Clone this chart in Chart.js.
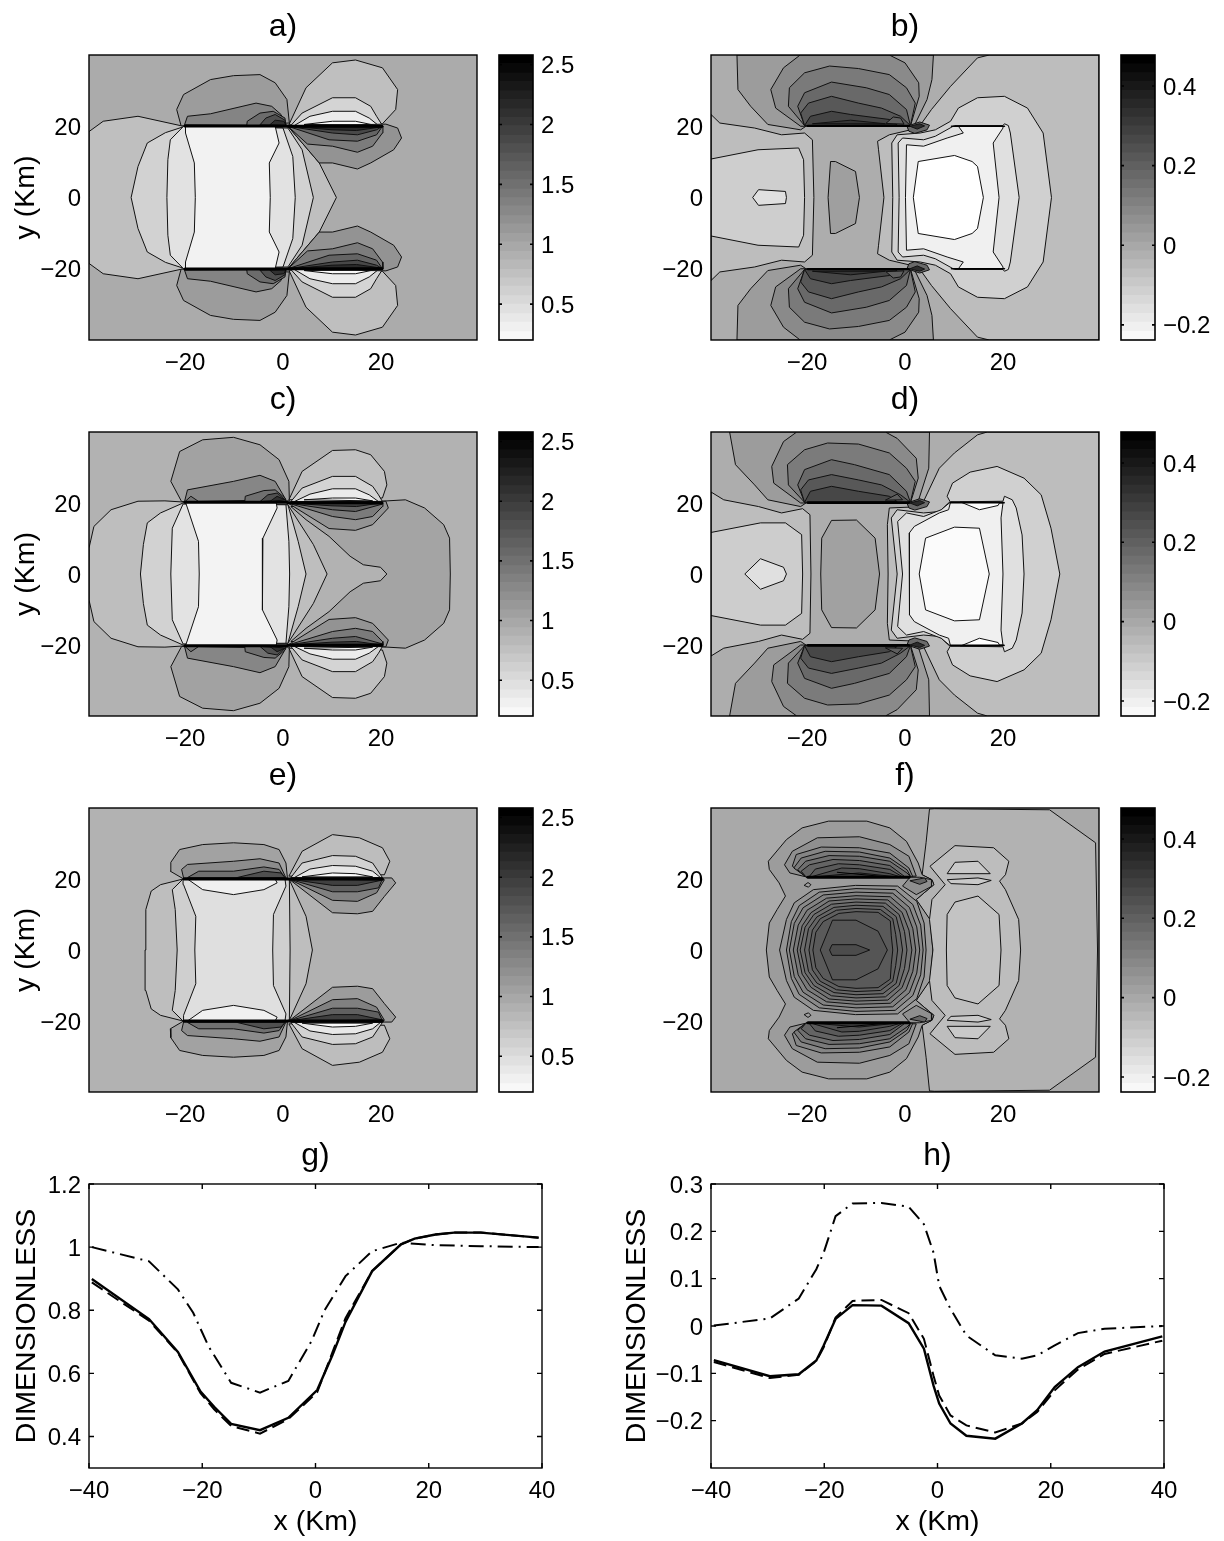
<!DOCTYPE html>
<html><head><meta charset="utf-8">
<script src="https://cdn.jsdelivr.net/npm/chart.js@4"></script>
<style>
html,body{margin:0;padding:0;background:#fff;width:1224px;height:1541px;overflow:hidden}
canvas{position:absolute;display:block}
</style></head><body>
<script>
/* ---------- axis ticks ---------- */
const contourXTicks=[-20,0,20];
const contourYTicks=[-20,0,20];
const lineXTicks=[-40,-20,0,20,40];
const lineGTicks=[0.4,0.6,0.8,1,1.2];
const lineHTicks=[-0.2,-0.1,0,0.1,0.2,0.3];
const barTicksLeft=[0.5,1,1.5,2,2.5];
const barTicksRight=[-0.2,0,0.2,0.4];
const panelTitles=['a)','b)','c)','d)','e)','f)','g)','h)'];

/* ---------- colour bars ---------- */
const barGreys=[248,240,232,224,216,208,200,192,184,176,168,160,152,144,136,128,120,112,104,96,88,80,72,64,56,48,40,32,24,16,8,0];
const barEdgesLeft=[0.20,0.27,0.35,0.42,0.50,0.57,0.65,0.72,0.79,0.87,0.94,1.02,1.09,1.17,1.24,1.32,1.39,1.46,1.54,1.61,1.69,1.76,1.84,1.91,1.99,2.06,2.13,2.21,2.28,2.36,2.43,2.51,2.58];
const barEdgesRight=[-0.238,-0.216,-0.193,-0.171,-0.148,-0.126,-0.104,-0.081,-0.059,-0.036,-0.014,0.008,0.031,0.053,0.076,0.098,0.120,0.143,0.165,0.188,0.210,0.232,0.255,0.277,0.300,0.322,0.344,0.367,0.389,0.412,0.434,0.456,0.478];

/* ---------- line panels ---------- */
const gX=[-39.5,-29.4,-24.3,-20.3,-17.9,-14.9,-9.8,-4.8,0.3,3,5.3,10,15.1,17.5,21.2,24.5,29.2,39.4];
const gSolid=[.899,.772,.668,.542,.494,.44,.42,.459,.547,.658,.763,.924,1.009,1.027,1.04,1.046,1.046,1.03];
const gDashed=[.888,.767,.665,.537,.486,.433,.409,.455,.54,.667,.775,.924,1.009,1.027,1.04,1.046,1.046,1.03];
const gDashDotX=[-39.5,-29.4,-24.3,-21.6,-18.9,-14.9,-9.8,-4.8,-.7,1.6,5.3,10,15.1,21.2,29.2,39.4];
const gDashDot=[1,.955,.866,.792,.686,.57,.539,.576,.702,.8,.908,.987,1.014,1.006,1.003,1];
const hX=[-39.5,-29.6,-24.5,-21.4,-20.1,-18,-15,-9.9,-5.1,-2.4,-.7,.3,2.3,5.1,10.2,14.9,17.6,20.7,24.8,29.5,39.7];
const hSolid=[-.072,-.106,-.102,-.073,-.041,.015,.044,.043,.006,-.048,-.126,-.164,-.206,-.232,-.238,-.206,-.178,-.129,-.087,-.054,-.022];
const hDashed=[-.076,-.11,-.103,-.074,-.045,.018,.053,.055,.027,-.027,-.105,-.147,-.189,-.21,-.225,-.206,-.182,-.136,-.092,-.059,-.031];
const hDashDot=[.001,.016,.058,.12,.155,.232,.259,.26,.252,.215,.155,.085,.036,-.02,-.062,-.069,-.062,-.041,-.015,-.006,0];

/* ---------- contour panels: upper half, flat x,y lists, mirrored about y=0 ---------- */
const plotBox=[-39.6,-40,39.6,-40,39.6,40,-39.6,40];
const backA=171, backB=173, backC=178, backD=173, backE=178, backF=169;

const bandGreysA=[191,210,226,242];
const bandsA=[
[-39.6,0,-39.6,18.5,-36.7,21.4,-29.6,22.8,-21,20.2,-18,20,1,20,7.4,9.7,10.9,0],
[-31,0,-29.6,8.7,-27.7,15.3,-24,18.2,-20,20,1,19.5,3.9,13.4,6.2,0],
[-23.7,0,-23.5,10.6,-23,16.2,-20.3,20,0,19.5,2,11.5,2.5,0],
[-17.9,0,-18.1,9.7,-19.9,18.1,-19.9,20,-1.6,20,-.8,15.3,-2.8,9.7,-2.6,0]];
const lobeGreysA=[156,132,108,80,48,191,212,235,250,147,124,100,72,42];
const lobesA=[
[-20.8,20.1,-21.7,24.7,-20.3,28.9,-14.8,33.1,-10.1,34.2,-4.7,34.5,-1.6,32.2,.8,27.5,1.3,20.9],
[-20.1,20.4,-19.5,22.8,-14.8,23.5,-5.5,26.5,-2.3,25.6,-.4,23.3,.6,20.2],
[-7.4,20.2,-7.3,21.4,-4.7,23.7,-2,24.2,.4,22.3,.6,20.2],
[-4.7,20.4,-3.5,22.3,-1.6,23.3,.4,21.7,.6,20.2],
[-2.7,20.4,-1.6,21.7,.2,21.4,.6,20.2],
[1.2,20.4,4.7,30.8,10.1,37.8,14.8,38.6,20.3,36.4,23.4,30.3,23,24.7,20.3,20.7],
[1.6,20.2,3.9,23.7,10.1,28,14.8,28,17.9,25.6,19.1,22.8,20.3,20.2],
[2.3,20.2,5.5,22.8,10.1,24.2,14.8,24.2,17.6,22.3,19.5,20.2],
[4.3,20.5,10.1,21.4,14.8,21.4,18.3,20.4],
[1,20,7.4,9.7,10.1,9.7,15.2,8,17.9,9.7,22.6,13.4,24.2,16.7,23.4,19.5,21,20.6],
[1,20,5,15,10.1,14.4,15.2,12.7,18.3,14.4,20.3,18.1,20.4,20],
[1,20,9.4,16.2,15.2,15.8,19.1,17.6,20.3,20],
[1,20,10.1,18.1,15.2,17.6,19.1,19,20.3,20],
[1.5,20,10,19,15,18.8,20,19.8]];
const wallsA=[-20,20.1,0.8,20.1,1,20,20.2,20];

const bandGreysB=[189,206,159,189,208,224,240,255,224];
const bandsB=[
[-39.6,0,-39.6,23.3,-37.8,20.9,-30.7,19.5,-25.2,17.6,-20.5,18.1,-18.9,16.2,-18.6,0],
[-39.6,0,-39.6,10.8,-30,13.4,-21.7,13.9,-20.7,10.6,-20.5,0],
[-15.7,0,-15.2,10.1,-14.2,10.1,-10.1,7.3,-9.3,0],
[39.6,0,39.6,40,17.2,40,14.8,39.2,9.3,31.2,5.4,24.7,2.7,19.5,-3.2,17.6,-5.6,15.8,-5.4,13.4,-4.3,0],
[29.9,0,28.2,18.1,25,25.1,20.3,28.4,14.8,28,10.9,25.1,9.3,21.4,6.2,19,3.1,18.1,-1.6,17.6,-2.7,15.3,-2.5,0],
[23.3,0,21.5,18.1,21.1,20.2,20.3,20.7,20,20.2,10.1,20.2,6.2,17.2,3.8,16.2,-.5,16.7,-1.4,15.3,-1.2,0],
[19.2,0,18,15.3,20,19.5,20,20,10.9,20,11.9,18.1,8.6,16.7,3.8,14.4,.3,14.8,.1,0],
[16,0,14.8,8.7,13.7,10.1,10.1,11.8,2.7,10.1,1.7,0],
[-31.1,0,-29.9,2.2,-24.4,1.7,-24.2,0]];
const lobeGreysB=[156,138,122,105,88,69,96,53,106,44];
const lobesB=[
[-34.3,40,-34.1,30.3,-31.5,25.6,-28,20.5,-21.3,19,-20,20.2,1.9,20.2,4.5,27.5,5.5,33.1,5.8,40],
[-21.4,40,-24.8,36.4,-27.4,30.3,-26.4,25.1,-21.3,20,1.1,20,2.9,28.4,2.8,32.2,0,37.8,-3.2,40],
[-20.5,20.2,-23.8,25.6,-23.6,30.8,-20.5,35,-15.4,36.9,-9.5,36.2,-3.2,34.5,.3,30.8,2.1,26.5,1.1,20.2],
[-20.5,20.2,-21.9,25.6,-20.5,29.4,-15,32.4,-7.9,30.8,-3.2,28.9,.3,24.7,1.1,20.2],
[-20.5,20.2,-21.3,23.7,-19.7,26.5,-15,28.4,-9.5,26.5,-4.8,25.1,-.9,22.8,1.1,20.2],
[-20.5,20.2,-19.3,22.8,-15,24.2,-11.1,23.3,-3.2,21.9,-1.6,20.4],
[-3.9,20.8,-2.4,22.6,-.9,22.3,-.2,20.6],
[-18.9,20.7,-11.1,21.7,-4,20.7],
[0.4,20,3,21.2,5,20.3,4.5,19,2,18,.8,18.6],
[1,20,3,20.7,4,20.1,2.5,19.2]];
const wallsB=[-19.8,20.1,.8,20.1,9.5,20,20.3,20];

const bandGreysC=[164,190,210,227,243];
const bandsC=[
[21.2,0,19.9,1.9,16.4,2.6,13.7,5,9.4,10.6,4.7,15.3,1.6,19,20,20.5,25,20.9,28.9,18.6,32.8,13.9,34,10.1,34.15,0],
[-39.6,0,-39.6,7.3,-38.6,13.4,-35.1,18.1,-29.6,20.5,-24.1,20.6,-20.7,20.3,1,19.5,6.2,8.3,9,0],
[-29.1,0,-28.5,8.3,-27.7,14.4,-25,17.2,-20.4,20,1,19.5,3.1,9.2,4.7,0],
[-22.9,0,-22.6,12.9,-20.4,19.7,.6,19.5,1.2,9.2,1.35,0],
[-17.1,0,-17.25,9.2,-19.5,18.6,-19.9,20.2,-1.4,20.2,-1.2,18.6,-4.1,10.1,-4.25,0]];
const lobeGreysC=[162,134,115,112,80,48,192,212,235,250,147,123,98,58];
const lobesC=[
[-20.7,20.4,-22.9,26.1,-21.1,34.5,-16.4,37.8,-10.1,38.5,-4.7,36.4,-.8,32.2,1.2,26.1,1.3,20.6],
[-20.1,20.4,-19.5,23.7,-10.1,26.1,-4.7,27.8,-1.6,26.1,.6,20.9],
[-20,20.4,-18.8,21.9,-17.2,20.4],
[-7.8,20.4,-7.7,21.9,-3.9,23.5,-1.6,23.7,.4,21.4,.6,20.4],
[-4.7,20.4,-3.1,22.3,-1.2,22.8,.4,20.9],
[-2.7,20.4,-1.2,21.9,.4,20.9],
[1.2,20.9,3.9,28.9,10.1,34.8,14.8,35,17.9,33.6,20.7,28.9,21.2,25.1,20.3,21.4],
[1.6,20.4,3.9,24.2,10.1,27.5,14.8,27.5,18.3,24.7,19.5,22.3,20.3,20.4],
[2.3,20.4,5.5,22.5,10.1,24,14.8,24,17.6,22.3,19.5,20.4],
[4.3,20.9,10.1,21.4,14.8,21.4,18.3,20.6],
[1,20,9.4,12.8,14.8,12.3,18.3,13.9,21.5,18.6,21,20.5],
[1,20,10.1,16.2,14.8,15.3,18.3,16.2,20.3,19,20.4,20],
[1,20,10.1,18.1,14.8,17.6,20.3,19.7],
[1,20,10,19.2,15,19,20,20]];
const wallsC=[-20,20.2,.8,20.2,1,20.1,20.2,20.1];

const bandGreysD=[189,208,224,240,251,189,205,161,224];
const bandsD=[
[39.6,0,39.6,40,16.8,40,14.8,39.2,10.1,34.1,7,29.8,3.8,20.5,2,18.9,-3.2,18.6,-3.6,13.9,-3.45,0],
[31.6,0,29.8,12.9,27.8,22.3,24.3,27,18.8,30.3,13.3,28.7,9.7,25.6,8.6,21.9,9.2,20.4,7,17.6,3.8,17.2,-1.6,18.1,-2.8,15.8,-1.6,0],
[24.3,0,23.9,11,22.7,18.6,21.9,20.9,20.3,21.9,20,20.5,9.3,20.3,7.4,18.1,3.8,16.2,.3,17.2,-1.5,14.8,-.5,0],
[20,0,19.6,15.8,20,20,9.3,20.3,8.9,18.1,7,17.2,1.9,13.4,.85,11.5,.95,0],
[17.2,0,15.2,12.9,10.1,13.2,4.2,10.1,2.9,0],
[-39.6,0,-39.6,23.1,-37,20.9,-29.9,19,-25.2,17.2,-20.9,18.4,-19.4,16.7,-19.2,0],
[-39.6,0,-39.6,11.7,-29.5,14.4,-24.4,14.4,-21.1,11.1,-20.9,0],
[-17.2,0,-17,10.1,-15,15.1,-9.9,15.2,-6.1,10.1,-5.2,0],
[-32.7,0,-29.5,4.3,-24.8,1.9,-24.2,0]];
const lobeGreysD=[156,138,123,105,88,71,94,255,106,44];
const lobesD=[
[-35.8,40,-34.6,30.8,-30.7,25.1,-28,20.9,-21.3,19,-20,20.2,1.9,20.2,2.7,20.5,4.85,29.8,5,40],
[-22.1,40,-24.8,37.3,-27.2,30.3,-26.8,25.6,-21.3,20,1.1,20,2.7,27,2.3,32.6,-1.6,38.2,-4,40],
[-20.5,20.2,-23.8,25.1,-24,30.8,-20.5,35,-15.8,36.9,-9.5,36.6,-3.2,34.1,.3,29.8,2.1,26.1,1.1,20.2],
[-20.5,20.2,-21.9,25.1,-20.5,29.4,-15,32.2,-10.3,30.8,-3.2,28,.3,23.3,1.1,20.2],
[-20.5,20.2,-21.3,23.7,-19.7,26.5,-15,28,-9.5,26.5,-4.8,25.1,-.9,22.3,1.1,20.2],
[-20.5,20.2,-19.3,23.3,-15,24.7,-9.5,23.3,-3.2,21.9,-1.6,20.4],
[-4,20.8,-1.6,22.5,-.5,20.9],
[11.3,20.3,15.2,18.1,19,19.3,19.4,20.3],
[.4,20,3,21.2,5,20.3,4.5,19,2,18,.8,18.6],
[1,20,3,20.7,4,20.1,2.5,19.2]];
const wallsD=[-19.8,20.1,.8,20.1,9.3,20.1,20.2,20.1];

const bandGreysE=[190,207,223];
const bandsE=[
[-28.15,0,-28,11.4,-26.9,16.6,-25,18.4,-20.4,20,1.3,19.8,4.7,9.5,6,0],
[-21.6,0,-22,11.4,-22.6,17,-20.4,20,1.3,19.8,1.45,0],
[-18,0,-17.8,9.5,-20.3,18.4,-20.4,20,.4,20,.6,18,-1.95,10,-2.1,0]];
const lobeGreysE=[240,162,140,112,80,189,210,232,250,156,128,96,64];
const lobesE=[
[-19.5,20,-16.4,17,-10.1,15.6,-3.9,17,-1.2,18.9,-1.6,20],
[-20.4,20.1,-23,22.2,-22.9,24.7,-21.1,28.3,-16.4,29.7,-10.1,30.2,-3.9,29.7,-.8,28.3,.6,24.5,.9,20.3],
[-20.3,20.3,-20.7,22.7,-19.5,24.1,-10.1,25,-4.7,25.7,-.8,24.5,.6,20.3],
[-19.5,20.4,-17.2,22.2,-10.1,22.2,-3.9,23.4,-.8,22.7,.4,20.4],
[-9.4,20.4,-3.9,22.2,-.4,21.7,.4,20.4],
[1.2,20.8,3.9,27.8,10.1,32.5,15.6,31.6,20.3,28.8,21.8,25,20.7,21.2],
[1.6,20.4,3.9,24.5,10.1,26.6,14.8,26.4,18.3,24.5,20.3,20.4],
[2.3,20.4,5.5,22.8,10.1,23.8,14.8,23.6,18.3,22.2,19.9,20.4],
[3.9,20.6,10.1,21.7,14.8,21.5,18.3,20.6],
[1.2,20,10.1,10.5,15.2,10.2,18.3,10.9,20.7,15.1,23,18.9,22.2,20.3,20.4,20.3],
[1.2,20,10.1,14,15.2,13.7,19.1,16.1,20.7,19.8],
[1.2,20,10.1,16.4,15.2,16.4,19.5,17.5,20.3,20],
[1.2,20,10.1,18.2,15.2,18.2,20.3,19.7]];
const wallsE=[-20.2,20,.6,20,1,20,20.3,20];

const bandGreysF=[178,156,189,195,147,138,130,122,115,108,102,96,90,85,76];
const bandsF=[
[5.7,0,5,8.6,2.3,14.2,3.9,16.1,5.9,18.4,5.5,19.8,3.5,21.2,4.3,30.2,5,39.7,6,39.8,29.5,39.5,38.9,30.2,39.3,0],
[-28.3,0,-27.7,7.6,-26.1,11.4,-24.4,15.2,-25.7,18.9,-27.7,22.7,-27.9,25,-24.2,31.1,-21,34.4,-15.6,36.3,-7.8,36.3,-3.1,34.4,.3,30.6,2.7,24.5,3.5,21.2,5.5,19.8,5.9,18.4,3.9,16.1,2.3,14.2,5.1,8.6,5.7,0],
[23.6,0,23.2,8.6,20.5,17,19.3,19.4,20.5,21.2,21.2,25,18.1,28.8,10.2,29.4,5.1,23.6,8.2,18.4,5.5,14.2,5,8.6,5.7,0],
[8.45,0,8.6,10,10.2,13.5,14.9,15.2,19.2,10,19.6,0],
[-25.6,0,-24.2,8.6,-22.6,13.3,-18.7,17,-10.1,18.2,-1.5,18,2.4,13.7,3.9,7.6,4.3,0],
[-24.2,0,-23.2,8,-21.6,12.5,-17.5,16.3,-10,17.3,-2,17,1.6,12.8,3.2,7,3.7,0],
[-23.6,0,-22.6,7.5,-20.8,11.9,-16.7,15.5,-10,16.3,-2.5,16,.9,12,2.4,6.5,3,0],
[-22.8,0,-21.8,7,-20,11.2,-16,14.6,-10,15.3,-3,15,.2,11.2,1.6,6,2.2,0],
[-22,0,-21,6.8,-19.2,10.5,-15.5,13.8,-10,14.4,-3.5,14.1,-.6,10.6,.8,5.6,1.4,0],
[-21.4,0,-20.4,6.4,-18.6,10,-15,12.9,-10,13.5,-4,13.2,-1.2,10,-.1,5.2,.4,0],
[-20.5,0,-19.7,6,-18,9.3,-14.5,12,-10,12.6,-4.5,12.3,-1.8,9.4,-1,4.8,-.5,0],
[-19.6,0,-18.9,5.6,-17.3,8.8,-14,11.2,-10,11.7,-5,11.4,-2.5,8.8,-1.9,4.4,-1.5,0],
[-18.8,0,-18.2,5,-16.7,8,-13.5,10.3,-10,10.8,-5.5,10.6,-3,8.2,-2.8,4,-2.5,0],
[-17.3,0,-14.8,8.4,-10,8.4,-5.5,5.3,-3.6,0],
[-15.4,0,-14.9,1.5,-10,1.5,-7.2,0]];
const lobeGreysF=[201,201,143,133,122,111,100,90,78,66,143,102,160];
const lobesF=[
[8.6,21.5,10.2,24.7,14.9,25,17.4,21.5],
[8.6,19.8,14.9,20.3,17.6,19.6,14.9,18.4,9.4,18.7],
[-20.2,20.6,-23.5,21.7,-24.6,24,-23,27.8,-17.9,31.6,-9.3,31.9,-3.1,29.7,.8,26.4,2.3,20.8],
[-20.2,20.6,-23,23.6,-22.2,26.9,-17.1,29,-9.3,28.8,-3.1,27.3,.8,23.1,1.6,20.6],
[-20.2,20.6,-22.7,23.1,-21.2,25.9,-16.3,27.8,-9.3,27.6,-3.1,25.9,.4,22.6,1.2,20.6],
[-20.2,20.6,-21.9,22.6,-20.3,25,-15.5,26.6,-9.3,26.4,-3.1,25,.4,21.7,1.2,20.6],
[-20.2,20.6,-21.2,22.2,-19.5,24,-14.7,25.5,-9.3,25.2,-3.1,23.8,0,20.6],
[-19.6,20.6,-18.3,22.8,-13.6,24.3,-9.3,24,-3.1,22.7,-.5,20.6],
[-19.2,20.6,-12.9,23.1,-9.3,22.9,-3.1,21.5,-.9,20.6],
[-18.7,20.6,-9.3,21.7,-1.6,20.6],
[-.5,18,2.3,15.6,5.5,18,5.4,19.8,3,20.5,1,20.5],
[1,19.5,3,18.5,4.5,19.3,4,20.3],
[-20.6,18.2,-19.7,17.7,-19.2,18.4,-19.8,19]];
const wallsF=[-19.8,20.5,.8,20.5];
const spikeF=[-13.9,21.9,-4.5,20.7];

/* ---------- helpers ---------- */
Chart.defaults.font.family='"Liberation Sans",Arial,sans-serif';
Chart.defaults.color='#000';
const grey=v=>`rgb(${v},${v},${v})`;
const pts=f=>{const o=[];for(let i=0;i<f.length;i+=2)o.push({x:f[i],y:f[i+1]});return o;};
const flipped=p=>p.map(q=>({x:q.x,y:-q.y}));
const minus=v=>String(v).replace('-','\u2212');
const noPad=s=>{s.paddingTop=0;s.paddingBottom=0;s.paddingLeft=0;s.paddingRight=0;};
const framePlugin={id:'frame',afterDatasetsDraw(ch,_a,o){
  const {ctx,chartArea:c}=ch;ctx.save();ctx.strokeStyle='#000';ctx.lineWidth=o.width||1.4;
  const t=o.tick||0;
  if(t){ctx.beginPath();
    if(o.xTicks)for(const k of ch.scales.x.ticks){const p=ch.scales.x.getPixelForValue(k.value);ctx.moveTo(p,c.top);ctx.lineTo(p,c.top+t);ctx.moveTo(p,c.bottom);ctx.lineTo(p,c.bottom-t);}
    for(const k of ch.scales.y.ticks){const p=ch.scales.y.getPixelForValue(k.value);ctx.moveTo(c.left,p);ctx.lineTo(c.left+t,p);ctx.moveTo(c.right,p);ctx.lineTo(c.right-t,p);}
    ctx.stroke();}
  ctx.strokeRect(c.left,c.top,c.right-c.left,c.bottom-c.top);ctx.restore();}};
function place(l,t,w,h){const c=document.createElement('canvas');c.width=w;c.height=h;c.style.left=l+'px';c.style.top=t+'px';c.style.width=w+'px';c.style.height=h+'px';document.body.appendChild(c);return c;}
const tickFont={size:24};
const axisFont={size:28.5};
function scaleX(ticks,min,max,h,title){return{type:'linear',min,max,afterBuildTicks:s=>{s.ticks=ticks.map(value=>({value}));},afterFit:s=>{s.height=h;noPad(s);},
  grid:{display:false,drawTicks:false},border:{display:false},
  ticks:{font:tickFont,padding:9,autoSkip:false,maxRotation:0,callback:minus},
  title:title?{display:true,text:title,font:axisFont,padding:{top:0,bottom:1}}:{display:false}};}
function scaleY(ticks,min,max,w,title,tp){return{type:'linear',min,max,afterBuildTicks:s=>{s.ticks=ticks.map(value=>({value}));},afterFit:s=>{s.width=w;noPad(s);},
  grid:{display:false,drawTicks:false},border:{display:false},
  ticks:{font:tickFont,padding:8,labelOffset:2,autoSkip:false,callback:minus},
  title:title?{display:true,text:title,font:axisFont,padding:{top:tp,bottom:0}}:{display:false}};}
function spacer(w){return{type:'linear',position:'right',display:true,afterFit:s=>{s.width=w;noPad(s);},grid:{display:false,drawTicks:false},border:{display:false},ticks:{display:false},title:{display:false}};}
function baseOpts(title,scales,tick,xTicks,tt){return{responsive:false,animation:false,events:[],layout:{padding:0},
  plugins:{legend:{display:false},tooltip:{enabled:false},filler:{drawTime:'beforeDatasetDraw'},
    title:{display:true,text:title,font:{size:32,weight:'normal',lineHeight:1},color:'#000',padding:{top:tt,bottom:55-32-tt}},
    frame:{tick,xTicks}},scales};}

function contour(idx,left,top,plotLeft,plotH,back,bands,bandG,lobes,lobeG,walls,wallW,extra,yTitle,tt){
  const yW=plotLeft-left,width=2*yW+388,H=55+plotH+50;
  const layers=[{data:pts(plotBox),g:back,bw:0}];
  bands.forEach((b,i)=>{const p=pts(b);layers.push({data:p.concat(flipped(p).reverse()),g:bandG[i],bw:1});});
  lobes.forEach((b,i)=>{const p=pts(b);p.push(p[0]);
    layers.push({data:p,g:lobeG[i],bw:1});layers.push({data:flipped(p),g:lobeG[i],bw:1});});
  const ds=layers.map(l=>({data:l.data,showLine:true,fill:'shape',backgroundColor:grey(l.g),borderColor:'#111',borderWidth:l.bw,pointRadius:0,tension:0}));
  for(let i=0;i<walls.length;i+=4){const s=pts(walls.slice(i,i+4));
    for(const d of [s,flipped(s)])ds.push({data:d,showLine:true,fill:false,borderColor:'#000',borderWidth:wallW[i/4],pointRadius:0,borderCapStyle:'round'});}
  if(extra){const s=pts(extra);for(const d of [s,flipped(s)])ds.push({data:d,showLine:true,fill:false,borderColor:'#000',borderWidth:1.2,pointRadius:0});}
  new Chart(place(left,top-55,width,H),{type:'scatter',data:{datasets:ds.reverse()},plugins:[framePlugin],
    options:baseOpts(panelTitles[idx],{x:scaleX(contourXTicks,-39.6,39.6,50),y:scaleY(contourYTicks,-40,40,yW,yTitle,9),y2:spacer(yW)},0,false,tt)});
}
function colorbar(barLeft,top,plotH,edges,ticks){
  const ds=barGreys.map((g,i)=>({data:[[edges[Math.max(i-1,0)],edges[i+1]]],backgroundColor:grey(g),borderWidth:0,barPercentage:1,categoryPercentage:1,grouped:false}));
  new Chart(place(barLeft-9,top-10,102,plotH+20),{type:'bar',data:{labels:[''],datasets:ds},plugins:[framePlugin],
    options:{responsive:false,animation:false,events:[],layout:{padding:{left:9,right:0,top:10,bottom:10}},
      plugins:{legend:{display:false},tooltip:{enabled:false},frame:{tick:3,xTicks:false,width:1.6}},
      scales:{x:{display:false,stacked:false},y:{type:'linear',position:'right',min:edges[0],max:edges[edges.length-1],
        afterBuildTicks:s=>{s.ticks=ticks.map(value=>({value}));},afterFit:s=>{s.width=59;noPad(s);},
        grid:{display:false,drawTicks:false},border:{display:false},ticks:{font:tickFont,padding:8,labelOffset:2,autoSkip:false,callback:minus}}}}});
}
function linePanel(idx,left,plotLeft,x,solid,dashed,ddX,dd,yTicks,yMin,yMax){
  const yW=plotLeft-left,width=2*yW+453;
  const mk=(xs,ys,dash)=>({data:xs.map((v,i)=>({x:v,y:ys[i]})),showLine:true,fill:false,borderColor:'#000',borderWidth:dash.length?2:2.4,borderDash:dash,pointRadius:0,tension:0});
  new Chart(place(left,1184-55,width,55+284+72),{type:'scatter',data:{datasets:[mk(x,solid,[]),mk(x,dashed,[13,6]),mk(ddX,dd,[15,6,2,6])]},plugins:[framePlugin],
    options:baseOpts(panelTitles[idx],{x:scaleX(lineXTicks,-40,40,72,'x (Km)'),y:scaleY(yTicks,yMin,yMax,yW,'DIMENSIONLESS',10),y2:spacer(yW)},5,true,11)});
}

/* ---------- build ---------- */
const colL=[0,89,499], colR=[625,711,1121];
contour(0,colL[0],55,colL[1],285,backA,bandsA,bandGreysA,lobesA,lobeGreysA,wallsA,[3,3],null,'y (Km)',11);
contour(1,colR[0],55,colR[1],285,backB,bandsB,bandGreysB,lobesB,lobeGreysB,wallsB,[2.4,1.6],null,null,11);
contour(2,colL[0],432,colL[1],284,backC,bandsC,bandGreysC,lobesC,lobeGreysC,wallsC,[3,3],null,'y (Km)',7);
contour(3,colR[0],432,colR[1],284,backD,bandsD,bandGreysD,lobesD,lobeGreysD,wallsD,[2.6,1.8],null,null,7);
contour(4,colL[0],808,colL[1],284,backE,bandsE,bandGreysE,lobesE,lobeGreysE,wallsE,[3,3],null,'y (Km)',7);
contour(5,colR[0],808,colR[1],284,backF,bandsF,bandGreysF,lobesF,lobeGreysF,wallsF,[3],spikeF,null,7);
colorbar(colL[2],55,285,barEdgesLeft,barTicksLeft);
colorbar(colR[2],55,285,barEdgesRight,barTicksRight);
colorbar(colL[2],432,284,barEdgesLeft,barTicksLeft);
colorbar(colR[2],432,284,barEdgesRight,barTicksRight);
colorbar(colL[2],808,284,barEdgesLeft,barTicksLeft);
colorbar(colR[2],808,284,barEdgesRight,barTicksRight);
linePanel(6,0,89,gX,gSolid,gDashed,gDashDotX,gDashDot,lineGTicks,0.3,1.2);
linePanel(7,610,711,hX,hSolid,hDashed,hX,hDashDot,lineHTicks,-0.3,0.3);
</script>
</body></html>
